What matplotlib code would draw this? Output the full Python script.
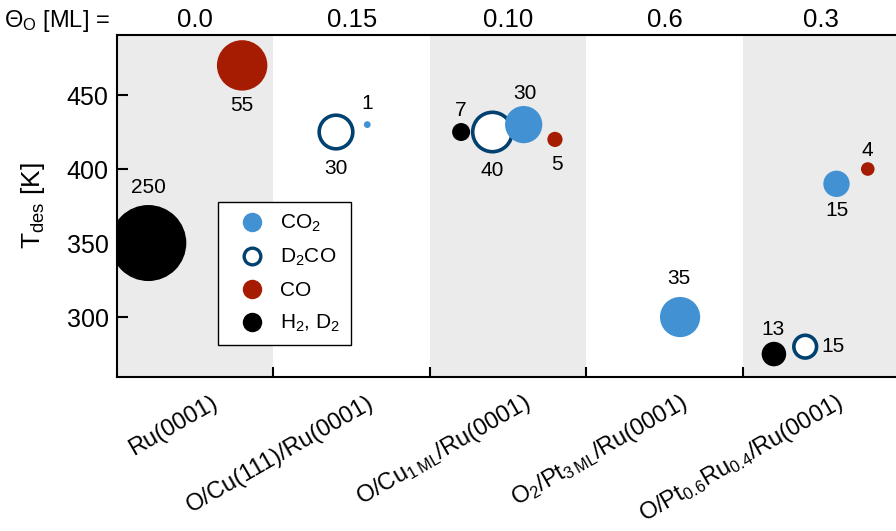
import numpy as np
import matplotlib.pyplot as plt
import matplotlib.transforms as mtrans
from matplotlib.lines import Line2D

plt.rcParams['font.family'] = ['Liberation Sans', 'DejaVu Sans']
plt.rcParams['mathtext.default'] = 'regular'

# surfaces and O coverage on top
surfaces = ['Ru(0001)', 'O/Cu(111)/Ru(0001)', r'O/Cu$_{1\,ML}$/Ru(0001)',
            r'O$_2$/Pt$_{3\,ML}$/Ru(0001)', r'O/Pt$_{0.6}$Ru$_{0.4}$/Ru(0001)']
theta_o = ['0.0', '0.15', '0.10', '0.6', '0.3']

# desorption peaks: surface index, T_des [K], amount (bubble label)
h2_surf = [0, 2, 4]
h2_tdes = [350, 425, 275]
h2_amount = [250, 7, 13]

d2co_surf = [1, 2, 4]
d2co_tdes = [425, 425, 280]
d2co_amount = [30, 40, 15]

co2_surf = [1, 2, 3, 4]
co2_tdes = [430, 430, 300, 390]
co2_amount = [1, 30, 35, 15]

co_surf = [0, 2, 4]
co_tdes = [470, 420, 400]
co_amount = [55, 5, 4]

c_co2 = '#4292d3'
c_d2co = '#00416f'
c_co = '#a61c02'
c_h2 = '#000000'
grey = '#ebebeb'

fig = plt.figure(figsize=(8.96, 5.31), dpi=100)
ax = fig.add_axes([0.1306, 0.290, 0.8728, 0.644])

for i in range(0, 5, 2):
    ax.axvspan(i, i + 1, color=grey, lw=0, zorder=0)


def bubble_r(amount):
    # radius in points, area ~ amount, biggest bubble capped
    return 3.4 * np.sqrt(np.minimum(np.asarray(amount, float), 125)) * 0.72


ring_lw = 2.6
# (surf, tdes, amount, slot, color, open, label offsets in px)
species = [
    (h2_surf, h2_tdes, h2_amount, 0.2, c_h2, False, [(0, 56), (0, 22), (-1, 25)]),
    (d2co_surf, d2co_tdes, d2co_amount, 0.4, c_d2co, True, [(0, -36), (0, -38), (28, 0)]),
    (co2_surf, co2_tdes, co2_amount, 0.6, c_co2, False, [(0, 21), (1, 31), (-1, 39), (1, -27)]),
    (co_surf, co_tdes, co_amount, 0.8, c_co, False, [(0, -40), (2, -25), (0, 19)]),
]

for surf, tdes, amount, slot, col, is_open, offs in species:
    x = np.array(surf) + slot
    r = bubble_r(amount)
    if is_open:
        ax.scatter(x, tdes, s=(2 * (r - ring_lw / 2)) ** 2, facecolors='white',
                   edgecolors=col, linewidths=ring_lw, zorder=3)
    else:
        ax.scatter(x, tdes, s=(2 * r) ** 2, c=col, edgecolors='none', zorder=3)
    for xi, yi, a, (dx, dy) in zip(x, tdes, amount, offs):
        ax.annotate(str(a), (xi, yi), xytext=(dx * 0.72, dy * 0.72),
                    textcoords='offset points', ha='center', va='center',
                    fontsize=15, zorder=4)

ax.set_xlim(0, 5)
ax.set_ylim(259.5, 490.5)
ax.set_yticks([300, 350, 400, 450])
ax.tick_params(axis='y', direction='in', length=8, width=1.5, labelsize=18, pad=6)

ax.set_xticks([1, 2, 3, 4])
ax.set_xticklabels([])
ax.tick_params(axis='x', which='major', direction='in', length=7, width=1.5)
ax.set_xticks(np.arange(5) + 0.5, minor=True)
ax.set_xticklabels(surfaces, minor=True, rotation=30, ha='right', va='baseline',
                   rotation_mode='anchor', fontsize=17)
ax.tick_params(axis='x', which='minor', length=0, pad=21)
shift = mtrans.ScaledTranslation(24 / 100, 0, fig.dpi_scale_trans)
for lab in ax.get_xticklabels(minor=True):
    lab.set_transform(lab.get_transform() + shift)

for i, t in enumerate(theta_o):
    ax.annotate(t, (i + 0.5, 1), xycoords=('data', 'axes fraction'),
                xytext=(0, 6), textcoords='offset points', ha='center',
                va='baseline', fontsize=18.5)
ax.annotate(r'$\Theta_O$ [ML] =', (0, 1), xycoords='axes fraction',
            xytext=(-5, 6), textcoords='offset points', ha='right',
            va='baseline', fontsize=17)

ax.set_ylabel(r'T$_{des}$ [K]', fontsize=19, labelpad=14)

for side in ['left', 'bottom', 'top']:
    ax.spines[side].set_linewidth(1.5)
ax.spines['right'].set_visible(False)

handles = [
    Line2D([], [], ls='none', marker='o', ms=14, mfc=c_co2, mec='none'),
    Line2D([], [], ls='none', marker='o', ms=12, mfc='white', mec=c_d2co, mew=2.4),
    Line2D([], [], ls='none', marker='o', ms=14, mfc=c_co, mec='none'),
    Line2D([], [], ls='none', marker='o', ms=14, mfc=c_h2, mec='none'),
]
labels = ['CO$_2$', 'D$_2$CO', 'CO', 'H$_2$, D$_2$']
leg = ax.legend(handles, labels, loc='lower left', bbox_to_anchor=(0.129, 0.094),
                borderaxespad=0, fontsize=15, frameon=True, fancybox=False,
                edgecolor='black', framealpha=1, handlelength=2.3,
                handletextpad=0.2, labelspacing=0.62, borderpad=0.5)
leg.get_frame().set_linewidth(1.0)
leg.set_zorder(5)

fig.savefig('out.png', dpi=100)
